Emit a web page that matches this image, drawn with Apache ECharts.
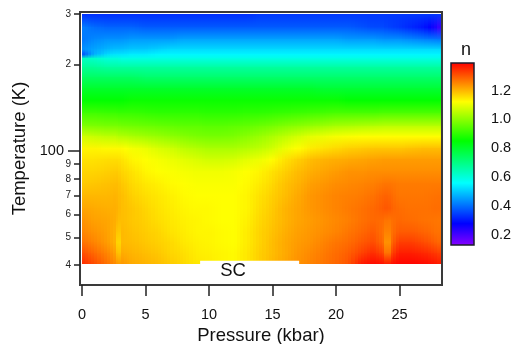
<!DOCTYPE html>
<html lang="en">
<head>
  <meta charset="UTF-8">
  <title>n vs pressure and temperature</title>
  <script src="https://cdn.jsdelivr.net/npm/echarts@6/dist/echarts.min.js"></script>
  <style>
    html, body { margin: 0; background: #fff; }
    #chart { width: 521px; height: 344px; }
  </style>
</head>
<body>
  <div id="chart"></div>
  <script>
    const pressures = [0,1,2,2.7,2.9,3.1,4,5,6,7,8,9,10,11,12,13,14,15,16,17,18,19,20,21,22,23,23.85,24.1,24.35,25,26,27,28,28.2];
    const temperatures = [300,270,245,225,217,210,195,180,165,150,135,122,112,102,93,85,77,70,63,57,52,48,44,40.5];

    // one row per temperature, one column per pressure
    const nValues = [
      [.33,.33,.33,.33,.33,.33,.33,.33,.33,.33,.33,.33,.33,.33,.33,.33,.34,.34,.34,.34,.34,.34,.34,.34,.34,.34,.34,.34,.34,.34,.34,.34,.34,.34],
      [.42,.40,.39,.39,.39,.39,.39,.38,.38,.38,.38,.38,.38,.38,.38,.38,.38,.38,.38,.38,.38,.38,.38,.38,.37,.36,.36,.35,.35,.34,.32,.30,.24,.20],
      [.41,.43,.44,.44,.44,.44,.45,.45,.45,.45,.46,.46,.46,.46,.46,.46,.46,.46,.46,.46,.46,.46,.46,.45,.45,.45,.44,.44,.44,.44,.43,.42,.41,.41],
      [.44,.46,.48,.49,.49,.49,.50,.50,.51,.52,.52,.52,.52,.52,.52,.52,.52,.52,.52,.52,.52,.52,.52,.52,.52,.52,.52,.52,.52,.52,.52,.52,.52,.52],
      [.35,.47,.52,.53,.53,.53,.54,.54,.55,.55,.55,.55,.55,.55,.55,.55,.55,.55,.55,.55,.55,.55,.55,.55,.55,.55,.55,.55,.55,.55,.55,.55,.55,.55],
      [.63,.62,.60,.60,.60,.59,.59,.59,.59,.59,.59,.59,.59,.59,.59,.59,.59,.59,.59,.59,.59,.59,.59,.59,.59,.59,.59,.59,.59,.59,.59,.59,.59,.59],
      [.68,.68,.67,.67,.67,.67,.67,.67,.67,.67,.67,.67,.67,.67,.67,.67,.67,.67,.67,.67,.67,.67,.67,.67,.67,.67,.67,.67,.67,.67,.67,.67,.67,.67],
      [.74,.74,.74,.74,.74,.74,.74,.73,.73,.73,.73,.73,.73,.73,.73,.73,.73,.73,.73,.73,.73,.73,.73,.73,.73,.73,.73,.73,.73,.73,.73,.73,.73,.73],
      [.80,.80,.80,.80,.80,.80,.80,.80,.80,.80,.80,.80,.80,.80,.80,.80,.80,.80,.80,.80,.80,.79,.79,.79,.79,.79,.79,.79,.79,.79,.79,.79,.79,.79],
      [.85,.85,.85,.85,.85,.85,.86,.86,.86,.86,.86,.86,.86,.86,.86,.86,.86,.86,.86,.86,.86,.86,.86,.85,.85,.85,.85,.85,.85,.85,.85,.85,.85,.85],
      [.92,.92,.915,.915,.91,.91,.91,.905,.90,.90,.90,.90,.895,.895,.895,.90,.90,.905,.91,.915,.92,.925,.93,.93,.93,.93,.935,.935,.935,.935,.935,.935,.935,.935],
      [.99,.985,.98,.98,.98,.975,.97,.965,.96,.955,.95,.95,.945,.945,.95,.955,.965,.975,.99,1.0,1.01,1.02,1.03,1.035,1.04,1.045,1.05,1.05,1.05,1.05,1.05,1.05,1.05,1.05],
      [1.07,1.06,1.05,1.05,1.04,1.04,1.03,1.02,1.01,1.00,.99,.98,.975,.975,.98,.995,1.01,1.03,1.05,1.07,1.09,1.10,1.11,1.115,1.12,1.12,1.12,1.12,1.12,1.12,1.12,1.12,1.12,1.12],
      [1.13,1.13,1.125,1.125,1.125,1.125,1.11,1.10,1.08,1.07,1.05,1.04,1.03,1.03,1.03,1.04,1.05,1.07,1.10,1.12,1.14,1.15,1.16,1.17,1.175,1.18,1.18,1.18,1.18,1.18,1.185,1.19,1.19,1.19],
      [1.15,1.15,1.155,1.155,1.155,1.15,1.13,1.12,1.11,1.10,1.09,1.08,1.07,1.07,1.075,1.09,1.10,1.12,1.15,1.17,1.19,1.20,1.205,1.21,1.215,1.22,1.225,1.225,1.225,1.225,1.225,1.225,1.225,1.225],
      [1.165,1.165,1.17,1.175,1.175,1.165,1.15,1.13,1.12,1.115,1.11,1.105,1.105,1.105,1.11,1.12,1.13,1.15,1.17,1.19,1.205,1.215,1.225,1.235,1.235,1.24,1.24,1.24,1.24,1.24,1.24,1.24,1.24,1.24],
      [1.175,1.18,1.185,1.19,1.19,1.18,1.16,1.145,1.135,1.125,1.12,1.115,1.115,1.115,1.115,1.125,1.14,1.16,1.185,1.20,1.22,1.23,1.24,1.245,1.25,1.255,1.265,1.265,1.265,1.26,1.26,1.26,1.26,1.26],
      [1.195,1.195,1.195,1.20,1.195,1.19,1.17,1.155,1.145,1.135,1.125,1.12,1.12,1.12,1.12,1.13,1.15,1.17,1.19,1.21,1.23,1.24,1.25,1.255,1.26,1.27,1.285,1.285,1.28,1.265,1.265,1.265,1.27,1.27],
      [1.215,1.21,1.205,1.205,1.20,1.19,1.18,1.165,1.15,1.14,1.13,1.125,1.125,1.12,1.12,1.13,1.155,1.175,1.20,1.215,1.23,1.24,1.25,1.26,1.27,1.28,1.295,1.30,1.29,1.275,1.27,1.27,1.275,1.275],
      [1.235,1.22,1.215,1.205,1.19,1.19,1.18,1.17,1.155,1.145,1.135,1.13,1.125,1.12,1.12,1.135,1.16,1.18,1.20,1.215,1.225,1.235,1.245,1.255,1.27,1.28,1.275,1.26,1.27,1.28,1.275,1.27,1.265,1.265],
      [1.25,1.235,1.22,1.20,1.16,1.195,1.185,1.175,1.165,1.15,1.14,1.13,1.13,1.125,1.12,1.14,1.165,1.185,1.205,1.22,1.23,1.24,1.25,1.265,1.28,1.295,1.265,1.24,1.265,1.295,1.295,1.285,1.27,1.27],
      [1.27,1.25,1.225,1.20,1.13,1.195,1.19,1.18,1.17,1.16,1.145,1.135,1.13,1.125,1.12,1.14,1.165,1.19,1.21,1.225,1.235,1.25,1.265,1.275,1.295,1.31,1.27,1.20,1.27,1.325,1.325,1.31,1.285,1.28],
      [1.31,1.28,1.25,1.22,1.16,1.21,1.20,1.19,1.18,1.165,1.155,1.14,1.135,1.13,1.125,1.145,1.17,1.19,1.21,1.23,1.245,1.26,1.275,1.29,1.32,1.345,1.31,1.23,1.31,1.36,1.36,1.35,1.33,1.32],
      [1.345,1.31,1.27,1.24,1.22,1.23,1.21,1.20,1.19,1.175,1.16,1.145,1.14,1.13,1.125,1.145,1.17,1.195,1.215,1.235,1.25,1.265,1.28,1.30,1.36,1.38,1.37,1.35,1.37,1.385,1.385,1.38,1.365,1.355]
    ];

    const xTicks = [0,5,10,15,20,25];
    const yMajorTicks = [100];
    const yMinorTicks = [40,50,60,70,80,90,200,300];
    const barTicks = [0.2,0.4,0.6,0.8,1.0,1.2];

    // rainbow colour table
    const nStops = [1.39,1.12,0.85,0.56,0.28,0];
    const nColors = ['#ff0000','#ffff00','#00ff00','#00ffff','#0000ff','#ff00ff'];
    const barMin = 0.128, barMax = 1.392;

    // SC notch: pressure from, pressure to, temperature of its top edge
    const scNotch = [9.3,17.1,41.4];

    const font = '"Liberation Sans", Arial, sans-serif';
    const ink = '#111';
    const frame = '#3a3a3a';

    function colorOf(n) {
      if (n >= nStops[0]) return nColors[0];
      for (let i = 1; i < nStops.length; i++) {
        if (n >= nStops[i]) {
          const t = (nStops[i-1] - n) / (nStops[i-1] - nStops[i]);
          return echarts.color.lerp(t, [nColors[i-1], nColors[i]]);
        }
      }
      return nColors[nColors.length-1];
    }

    const cells = [];
    for (let r = 0; r < temperatures.length - 1; r++) {
      for (let c = 0; c < pressures.length - 1; c++) {
        cells.push([pressures[c], pressures[c+1], temperatures[r], temperatures[r+1],
          nValues[r][c], nValues[r][c+1], nValues[r+1][c], nValues[r+1][c+1]]);
      }
    }

    // each cell is shaded with vertical gradients in narrow strips
    function renderCell(params, api) {
      const d = cells[params.dataIndex];
      const a = api.coord([d[0], d[2]]);
      const b = api.coord([d[1], d[3]]);
      const y0 = Math.floor(a[1]), y1 = Math.ceil(b[1]);
      const strips = Math.max(1, Math.round((b[0] - a[0]) / 3));
      const children = [];
      for (let s = 0; s < strips; s++) {
        const t = (s + 0.5) / strips;
        const top = colorOf(d[4] + (d[5] - d[4]) * t);
        const bot = colorOf(d[6] + (d[7] - d[6]) * t);
        const x0 = Math.floor(a[0] + (b[0] - a[0]) * s / strips);
        const x1 = Math.ceil(a[0] + (b[0] - a[0]) * (s + 1) / strips);
        children.push({
          type: 'rect',
          shape: { x: x0, y: y0, width: x1 - x0, height: y1 - y0 },
          style: { fill: new echarts.graphic.LinearGradient(0, 0, 0, 1, [
            { offset: 0, color: top }, { offset: 1, color: bot }
          ]) }
        });
      }
      return { type: 'group', children: children };
    }

    function renderNotch(params, api) {
      const a = api.coord([scNotch[0], scNotch[2]]);
      const b = api.coord([scNotch[1], 36]);
      const c = api.coord([11.9, 38.2]);
      return { type: 'group', children: [
        { type: 'rect', shape: { x: a[0], y: a[1], width: b[0] - a[0], height: b[1] - a[1] }, style: { fill: '#fff' } },
        { type: 'text', x: c[0], y: c[1], style: { text: 'SC', font: '18.5px ' + font, fill: ink, align: 'center', verticalAlign: 'middle' } }
      ] };
    }

    function renderBar(params, api) {
      const a = api.coord([0, barMax]);
      const b = api.coord([1, barMin]);
      const stops = [];
      nStops.forEach((v, i) => {
        if (v >= barMin && v <= barMax) stops.push({ offset: (barMax - v) / (barMax - barMin), color: nColors[i] });
      });
      stops.unshift({ offset: 0, color: colorOf(barMax) });
      stops.push({ offset: 1, color: colorOf(barMin) });
      return {
        type: 'rect',
        shape: { x: a[0], y: a[1], width: b[0] - a[0], height: b[1] - a[1] },
        style: { fill: new echarts.graphic.LinearGradient(0, 0, 0, 1, stops), stroke: '#1c1c2c', lineWidth: 1.5 }
      };
    }

    const chart = echarts.init(document.getElementById('chart'), null, { renderer: 'canvas' });
    chart.setOption({
      animation: false,
      backgroundColor: '#fff',
      textStyle: { fontFamily: font },
      title: {
        text: 'n', left: 456, top: 36,
        textStyle: { fontFamily: font, fontSize: 18, fontWeight: 'normal', color: ink }
      },
      grid: [
        { left: 80, top: 12, width: 362, height: 273, show: true, borderColor: frame, borderWidth: 2, backgroundColor: '#fff', outerBoundsMode: 'none' },
        { left: 451, top: 63, width: 23, height: 182, outerBoundsMode: 'none' }
      ],
      xAxis: [
        {
          type: 'value', gridIndex: 0, min: -0.16, max: 28.35,
          name: 'Pressure (kbar)', nameLocation: 'middle', nameGap: 40,
          nameTextStyle: { fontSize: 18.5, color: ink, fontFamily: font },
          splitLine: { show: false },
          axisLine: { show: true, onZero: false, lineStyle: { color: frame, width: 2 } },
          axisTick: { show: true, length: 11, customValues: xTicks, lineStyle: { color: '#222', width: 1.5 } },
          axisLabel: { customValues: xTicks, fontSize: 14.5, color: ink, margin: 22, showMinLabel: true, showMaxLabel: true }
        },
        { type: 'value', gridIndex: 1, min: 0, max: 1, show: false }
      ],
      yAxis: [
        {
          type: 'log', logBase: 10, gridIndex: 0, min: 34.1, max: 305,
          name: 'Temperature (K)', nameLocation: 'middle', nameGap: 50,
          nameTextStyle: { fontSize: 18.5, color: ink, fontFamily: font },
          splitLine: { show: false }, minorTick: { show: false },
          axisLine: { show: true, onZero: false, lineStyle: { color: frame, width: 2 } },
          axisTick: { show: true, length: 12, customValues: yMajorTicks, lineStyle: { color: '#222', width: 1.5 } },
          axisLabel: { customValues: yMajorTicks, fontSize: 14.5, color: ink, margin: 16 }
        },
        {
          type: 'log', logBase: 10, gridIndex: 0, min: 34.1, max: 305,
          splitLine: { show: false }, minorTick: { show: false },
          axisLine: { show: false, onZero: false },
          axisTick: { show: true, length: 6, customValues: yMinorTicks, lineStyle: { color: '#222', width: 1.5 } },
          axisLabel: { customValues: yMinorTicks, fontSize: 10, color: '#222', margin: 9, formatter: v => String(v)[0] },
          position: 'left', offset: 0
        },
        {
          type: 'value', gridIndex: 1, min: barMin, max: barMax, position: 'right',
          splitLine: { show: false },
          axisLine: { show: false },
          axisTick: { show: true, length: 11, customValues: barTicks, lineStyle: { color: '#222', width: 1.5 } },
          axisLabel: { customValues: barTicks, fontSize: 14.5, color: ink, margin: 17, formatter: v => v.toFixed(1) }
        }
      ],
      series: [
        {
          type: 'custom', xAxisIndex: 0, yAxisIndex: 0, renderItem: renderCell,
          data: cells.map((d, i) => [d[0], d[2], i]), encode: { x: 0, y: 1 }, silent: true
        },
        {
          type: 'custom', xAxisIndex: 0, yAxisIndex: 0, renderItem: renderNotch,
          data: [[scNotch[0], scNotch[2]]], encode: { x: 0, y: 1 }, silent: true
        },
        {
          type: 'custom', xAxisIndex: 1, yAxisIndex: 2, renderItem: renderBar,
          data: [[0, barMin]], encode: { x: 0, y: 1 }, silent: true
        }
      ]
    });
  </script>
</body>
</html>
